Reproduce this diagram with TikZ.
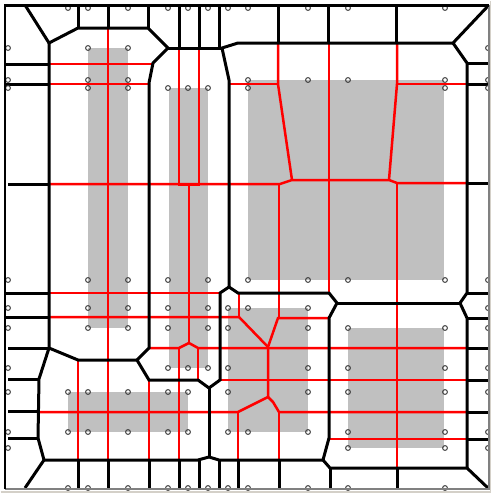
\documentclass[tikz,border=0pt]{standalone}
\definecolor{blockgray}{RGB}{192,192,192}
\definecolor{pingray}{RGB}{60,60,60}
\definecolor{framebeige}{RGB}{212,208,200}
\begin{document}
\begin{tikzpicture}[x=0.5pt, y=-0.5pt,
  wall/.style={draw=black, line width=1.5pt, line join=miter},
  route/.style={draw=red, line width=1.25pt, line join=miter},
  pin/.style={draw=pingray, line width=0.5pt}]
  \useasboundingbox (0,0) rectangle (491,493);
  \fill[white] (0,0) rectangle (491,493);
  % obstacles
  \fill[blockgray] (88,48) rectangle (128,328);
  \fill[blockgray] (169,88) rectangle (208,368);
  \fill[blockgray] (248,80) rectangle (444,280);
  \fill[blockgray] (68,392) rectangle (188,432);
  \fill[blockgray] (228,308) rectangle (308,432);
  \fill[blockgray] (348,328) rectangle (444,448);
  % red routes
  \draw[route] (108,28) -- (108,460);
  \draw[route] (179,48) -- (179,185) -- (199,185) -- (199,48);
  \draw[route] (189,185) -- (189,343);
  \draw[route] (149,348) -- (179,348) -- (189,343) -- (198,348) -- (467,348);
  \draw[route] (179,348) -- (179,460);
  \draw[route] (198,348) -- (198,380);
  \draw[route] (49,64) -- (153,64);
  \draw[route] (49,84) -- (149,84);
  \draw[route] (49,184) -- (280,184) -- (292,180) -- (389,180) -- (397,183) -- (467,183);
  \draw[route] (278,43) -- (278,84) -- (292,180);
  \draw[route] (229,84) -- (278,84);
  \draw[route] (397,43) -- (397,84) -- (389,180);
  \draw[route] (397,84) -- (467,84);
  \draw[route] (329,43) -- (329,293);
  \draw[route] (279,184) -- (279,318);
  \draw[route] (397,183) -- (397,468);
  \draw[route] (49,293) -- (220,293);
  \draw[route] (239,293) -- (239,317);
  \draw[route] (49,317) -- (239,317) -- (268,347);
  \draw[route] (329,318) -- (278,318) -- (268,347) -- (268,397);
  \draw[route] (39,412) -- (238,412) -- (268,397) -- (273,402) -- (279,412) -- (467,412);
  \draw[route] (238,412) -- (238,460);
  \draw[route] (279,412) -- (279,460);
  \draw[route] (220,380) -- (467,380);
  \draw[route] (330,439) -- (467,439);
  \draw[route] (78,360) -- (78,460);
  \draw[route] (149,380) -- (149,460);
  % black walls
  \draw[wall] (25,5) -- (49,43) -- (78,28) -- (148,28) -- (168,48) -- (153,63) -- (149,83)
    -- (149,348) -- (137,360) -- (149,380) -- (198,380) -- (209,388) -- (220,380)
    -- (220,293) -- (229,287) -- (238,293) -- (329,293) -- (337,303) -- (329,318)
    -- (329,438) -- (323,460) -- (330,468) -- (467,468) -- (488,488);
  \draw[wall] (229,287) -- (229,80) -- (222,48) -- (238,43) -- (453,43) -- (488,6);
  \draw[wall] (453,43) -- (467,63) -- (467,293) -- (460,303) -- (467,318) -- (467,468);
  \draw[wall] (337,303) -- (460,303);
  \draw[wall] (168,48) -- (222,48);
  \draw[wall] (209,388) -- (209,457);
  \draw[wall] (137,360) -- (78,360) -- (49,348);
  \draw[wall] (49,43) -- (49,348) -- (39,379) -- (38,438) -- (44,460) -- (25,488);
  \draw[wall] (44,460) -- (198,460) -- (209,457) -- (219,460) -- (323,460);
  \foreach \x/\y in {78/28, 108/28, 148/28, 179/48, 199/48, 219/48, 278/43, 328/43, 396/43}
    \draw[wall] (\x,5) -- (\x,\y);
  \foreach \x/\y in {78/460, 108/460, 149/460, 179/460, 199/460, 219/460, 238/460, 279/460, 330/468, 397/468}
    \draw[wall] (\x,\y) -- (\x,488);
  \foreach \y/\x in {64/5, 84/5, 184/8, 293/5, 317/5, 348/8}
    \draw[wall] (\x,\y) -- (49,\y);
  \draw[wall] (8,379) -- (39,379);
  \draw[wall] (8,411) -- (38,411);
  \draw[wall] (8,438) -- (38,438);
  \foreach \y in {63, 84, 183, 293, 318, 348, 380, 412, 439}
    \draw[wall] (467,\y) -- (489,\y);
  % pins
  \foreach \y/\row in {
      8/{68,88,128,168,188,208,228,248,308,348,445},
      48/{8,88,128,488},
      80/{8,88,128,248,308,348,445,488},
      88/{8,88,128,168,188,208,248,445,488},
      280/{8,88,128,168,208,248,308,348,445,488},
      308/{8,88,128,168,208,228,248,308,488},
      328/{8,88,128,168,208,228,308,348,445,488},
      368/{8,168,188,208,228,308,348,445,488},
      392/{8,68,88,128,168,188,228,308,348,445,488},
      432/{8,68,88,128,168,188,228,248,308,348,445,488},
      448/{8,348,445,488},
      488/{68,88,128,168,188,208,228,248,308,348,445}}
    \foreach \x in \row
      \draw[pin] (\x,\y) circle (1.2pt);
  % frame
  \draw[framebeige, line width=1pt] (0.5,491.5) -- (490.5,491.5) -- (490.5,0.5);
  \draw[gray, line width=0.6pt] (5,489) -- (489,489) -- (489,5);
  \draw[black, line width=1.4pt] (5,489) -- (5,5.5) -- (489,5.5);
\end{tikzpicture}
\end{document}
